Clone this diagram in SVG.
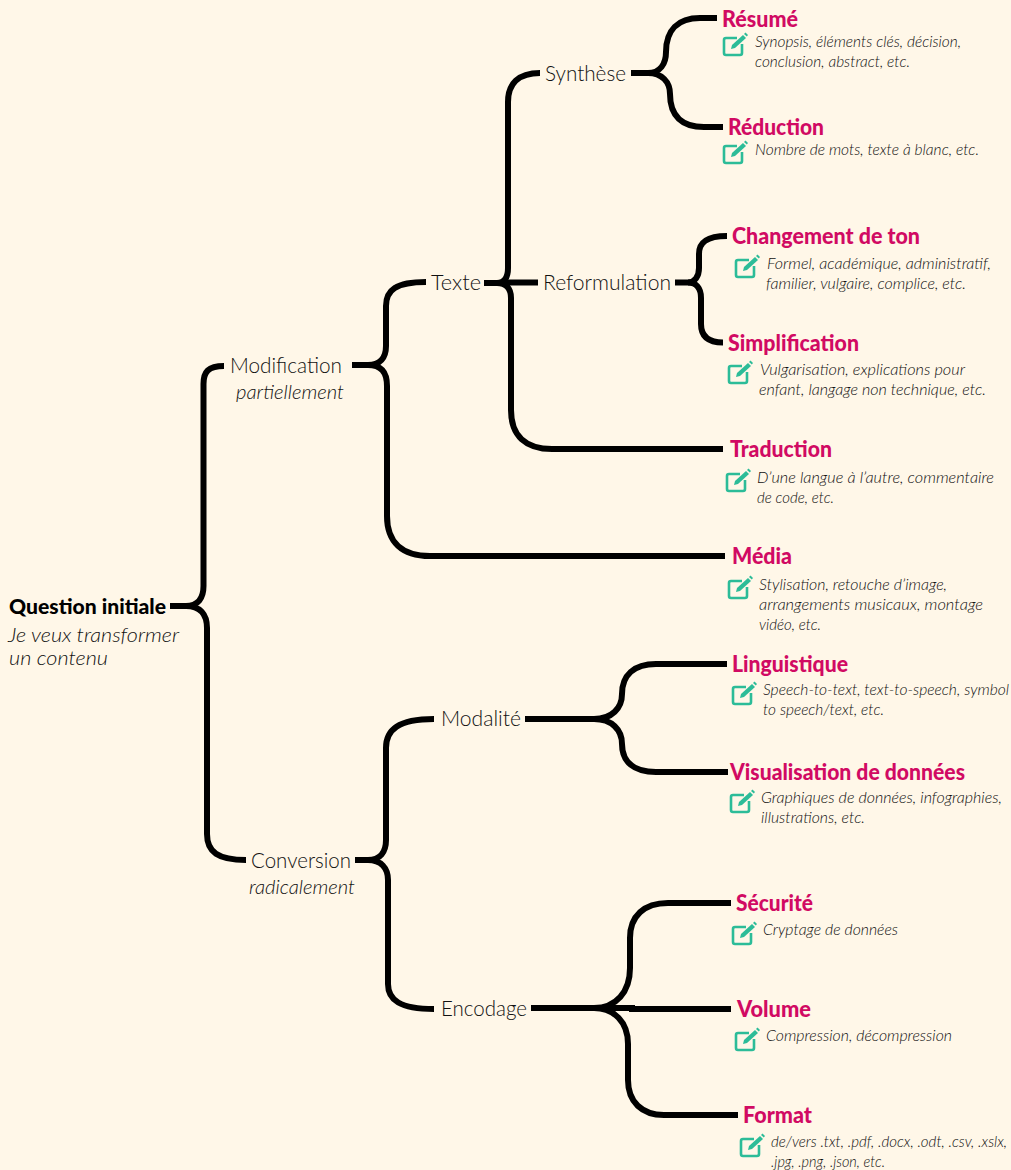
<svg xmlns="http://www.w3.org/2000/svg" width="1011" height="1170" viewBox="0 0 1011 1170">
<style>
text{font-family:"Lato","Open Sans",sans-serif;fill:#111}
.c{fill:none;stroke:#000;stroke-width:6}
.r{font-size:21px;font-weight:300}
.s{font-size:20px;font-weight:300;font-style:italic}
.s2{font-size:19px;font-weight:300;font-style:italic}
.t{font-size:22px;font-weight:900;fill:#d10a63}
.d{font-size:15px;font-weight:300;font-style:italic}
.b{font-size:21px;font-weight:900;fill:#000}
</style>
<defs>
<g id="ic" fill="none" stroke="#2cbc98" stroke-width="2.6">
<path d="M14 2H3Q1 2 1 4V17Q1 19 3 19H17Q19 19 19 17V8"/>
<path d="M8 13L9 9L20 -1L23 2L12 12Z" fill="#2cbc98" stroke="none"/>
<path d="M21 -2L22.5 -3.5L25 -1L23.8 .6Z" fill="#2cbc98" stroke="none"/>
</g>
</defs>
<rect width="1011" height="1170" fill="#fff7e8"/>
<g id="connectors" class="c">
<path d="M170 606H186C198 606 203.500 598 203.500 586V384C203.500 372 208 366 224 366"/>
<path d="M186 606C200 606 207 614 207 628V834C207 852 218 860 246 860"/>
<path d="M352 365H368C380 365 386 358 386 346V306C386 290 396 282 426 282"/>
<path d="M368 365C381 365 387 372 387 386V516C387 542 402 556 430 556H725"/>
<path d="M484 283H510"/>
<path d="M505 282.500H538"/>
<path d="M497 283C504 283 508 278 508 268V102C508 84 518 73 540 73"/>
<path d="M497 283C506 283 511 288 511 298V410C511 436 526 449 552 449H723"/>
<path d="M631 73H648C660 73 666 64 666 52C666 30 678 18 700 18H717"/>
<path d="M648 73C662 73 670 82 670 94C670 116 682 127 704 127H723"/>
<path d="M675 282.500H688C695 282.500 699 276 699 268V254C699 243 706 236 727 236"/>
<path d="M688 282.500C696 282.500 701 288 701 298V324C701 336 708 342.500 723 342.500"/>
<path d="M525 719H594C612 719 622 708 622 694C622 675 634 664 656 664H727"/>
<path d="M594 719C612 719 622 730 622 744C622 762 634 772 656 772H728"/>
<path d="M355 860H368C380 860 386 852 386 840V748C386 730 398 719 434 719"/>
<path d="M368 860C381 860 388 868 388 880V984C388 1000 400 1009 434 1009"/>
<path d="M531 1008H594C616 1008 630 992 630 968V938C630 916 644 903 668 903H731"/>
<path d="M594 1008H632V1009H731"/>
<path d="M594 1008C614 1008 628 1022 628 1044V1080C628 1102 642 1115 664 1115H738"/>
</g>
<g id="root"><text class="b" x="9" y="614" textLength="157" lengthAdjust="spacingAndGlyphs">Question initiale</text>
<text class="s2" x="8" y="642" textLength="171" lengthAdjust="spacingAndGlyphs">Je veux transformer</text>
<text class="s2" x="9" y="665" textLength="99" lengthAdjust="spacingAndGlyphs">un contenu</text></g>
<g id="modification"><text class="r" x="230" y="373" textLength="112" lengthAdjust="spacingAndGlyphs">Modification</text>
<text class="s" x="236" y="399" textLength="108" lengthAdjust="spacingAndGlyphs">partiellement</text></g>
<g id="conversion"><text class="r" x="251" y="868" textLength="100" lengthAdjust="spacingAndGlyphs">Conversion</text>
<text class="s" x="249" y="894" textLength="106" lengthAdjust="spacingAndGlyphs">radicalement</text></g>
<g id="texte"><text class="r" x="431" y="290" textLength="50" lengthAdjust="spacingAndGlyphs">Texte</text></g>
<g id="synthese"><text class="r" x="545" y="81" textLength="81" lengthAdjust="spacingAndGlyphs">Synthèse</text></g>
<g id="reformulation"><text class="r" x="543" y="290" textLength="128" lengthAdjust="spacingAndGlyphs">Reformulation</text></g>
<g id="modalite"><text class="r" x="441" y="726" textLength="80" lengthAdjust="spacingAndGlyphs">Modalité</text></g>
<g id="encodage"><text class="r" x="441" y="1016" textLength="86" lengthAdjust="spacingAndGlyphs">Encodage</text></g>

<g id="resume"><text class="t" x="722" y="27" textLength="76" lengthAdjust="spacingAndGlyphs">Résumé</text>
<use href="#ic" x="723" y="36"/>
<text class="d" x="755" y="47" textLength="206" lengthAdjust="spacingAndGlyphs">Synopsis, éléments clés, décision,</text>
<text class="d" x="755" y="67" textLength="155" lengthAdjust="spacingAndGlyphs">conclusion, abstract, etc.</text></g>
<g id="reduction"><text class="t" x="728" y="135" textLength="96" lengthAdjust="spacingAndGlyphs">Réduction</text>
<use href="#ic" x="723" y="144"/>
<text class="d" x="755" y="155" textLength="224" lengthAdjust="spacingAndGlyphs">Nombre de mots, texte à blanc, etc.</text></g>
<g id="ton"><text class="t" x="732" y="244" textLength="188" lengthAdjust="spacingAndGlyphs">Changement de ton</text>
<use href="#ic" x="735" y="258"/>
<text class="d" x="767" y="269" textLength="224" lengthAdjust="spacingAndGlyphs">Formel, académique, administratif,</text>
<text class="d" x="766" y="289" textLength="200" lengthAdjust="spacingAndGlyphs">familier, vulgaire, complice, etc.</text></g>
<g id="simplification"><text class="t" x="728" y="351" textLength="131" lengthAdjust="spacingAndGlyphs">Simplification</text>
<use href="#ic" x="728" y="364"/>
<text class="d" x="760" y="375" textLength="205" lengthAdjust="spacingAndGlyphs">Vulgarisation, explications pour</text>
<text class="d" x="759" y="395" textLength="227" lengthAdjust="spacingAndGlyphs">enfant, langage non technique, etc.</text></g>
<g id="traduction"><text class="t" x="730" y="457" textLength="102" lengthAdjust="spacingAndGlyphs">Traduction</text>
<use href="#ic" x="726" y="472"/>
<text class="d" x="757" y="483" textLength="237" lengthAdjust="spacingAndGlyphs">D’une langue à l’autre, commentaire</text>
<text class="d" x="757" y="503" textLength="77" lengthAdjust="spacingAndGlyphs">de code, etc.</text></g>
<g id="media"><text class="t" x="732" y="564" textLength="60" lengthAdjust="spacingAndGlyphs">Média</text>
<use href="#ic" x="728" y="579"/>
<text class="d" x="759" y="590" textLength="188" lengthAdjust="spacingAndGlyphs">Stylisation, retouche d’image,</text>
<text class="d" x="759" y="610" textLength="224" lengthAdjust="spacingAndGlyphs">arrangements musicaux, montage</text>
<text class="d" x="759" y="630" textLength="62" lengthAdjust="spacingAndGlyphs">vidéo, etc.</text></g>
<g id="linguistique"><text class="t" x="732" y="672" textLength="116" lengthAdjust="spacingAndGlyphs">Linguistique</text>
<use href="#ic" x="732" y="685"/>
<text class="d" x="763" y="695" textLength="246" lengthAdjust="spacingAndGlyphs">Speech-to-text, text-to-speech, symbol</text>
<text class="d" x="763" y="715" textLength="121" lengthAdjust="spacingAndGlyphs">to speech/text, etc.</text></g>
<g id="visualisation"><text class="t" x="730" y="780" textLength="235" lengthAdjust="spacingAndGlyphs">Visualisation de données</text>
<use href="#ic" x="730" y="793"/>
<text class="d" x="761" y="803" textLength="241" lengthAdjust="spacingAndGlyphs">Graphiques de données, infographies,</text>
<text class="d" x="761" y="823" textLength="104" lengthAdjust="spacingAndGlyphs">illustrations, etc.</text></g>
<g id="securite"><text class="t" x="736" y="911" textLength="77" lengthAdjust="spacingAndGlyphs">Sécurité</text>
<use href="#ic" x="732" y="925"/>
<text class="d" x="763" y="935" textLength="135" lengthAdjust="spacingAndGlyphs">Cryptage de données</text></g>
<g id="volume"><text class="t" x="737" y="1017" textLength="74" lengthAdjust="spacingAndGlyphs">Volume</text>
<use href="#ic" x="735" y="1031"/>
<text class="d" x="766" y="1041" textLength="186" lengthAdjust="spacingAndGlyphs">Compression, décompression</text></g>
<g id="format"><text class="t" x="743" y="1123" textLength="69" lengthAdjust="spacingAndGlyphs">Format</text>
<use href="#ic" x="740" y="1137"/>
<text class="d" x="771" y="1147" textLength="236" lengthAdjust="spacingAndGlyphs">de/vers .txt, .pdf, .docx, .odt, .csv, .xslx,</text>
<text class="d" x="771" y="1167" textLength="114" lengthAdjust="spacingAndGlyphs">.jpg, .png, .json, etc.</text></g>
</svg>
